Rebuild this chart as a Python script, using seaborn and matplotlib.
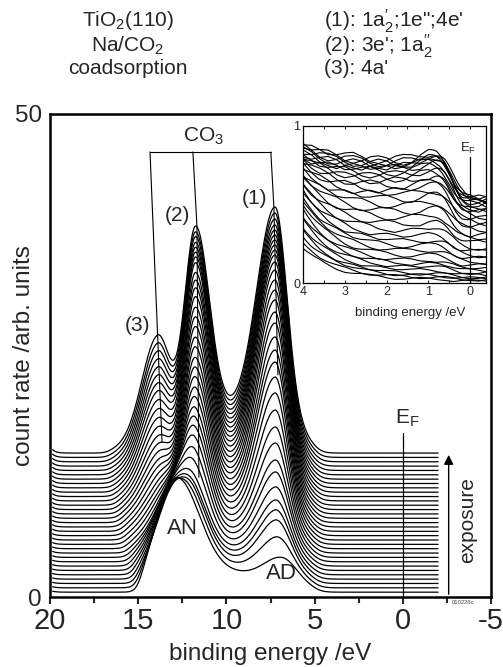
import numpy as np
import pandas as pd
import matplotlib
matplotlib.use('Agg')
import matplotlib.pyplot as plt
import seaborn as sns
from matplotlib.patches import Rectangle

sns.set_theme(style='white')
plt.rcParams['font.family'] = ['Liberation Sans', 'DejaVu Sans']
plt.rcParams['mathtext.fontset'] = 'custom'
plt.rcParams['mathtext.rm'] = 'Liberation Sans'
plt.rcParams['mathtext.it'] = 'Liberation Sans:italic'
plt.rcParams['mathtext.default'] = 'regular'
plt.rcParams['axes.unicode_minus'] = False

# ---------------- data ----------------
# apex heights (absolute, stacked) of the 33 spectra, bottom -> top
peak1_apex = [4.04, 6.21, 7.97, 9.01, 10.04, 11.39, 12.94, 14.18, 15.94, 17.60, 19.36,
              21.12, 22.77, 24.33, 25.57, 26.92, 28.36, 29.50, 30.75, 31.78, 32.82,
              33.85, 34.68, 35.40, 35.92, 36.44, 36.96, 37.47, 37.99, 38.51, 39.13,
              39.75, 40.37]
peak2_apex = [9.3, 10.4, 11.1, 11.6, 12.4, 13.9, 15.2, 16.5, 17.6, 18.6, 19.6, 20.7,
              21.7, 22.8, 23.8, 24.8, 25.9, 26.9, 28.0, 29.0, 30.0, 31.1, 32.0, 32.8,
              33.6, 34.6, 35.2, 35.7, 36.2, 36.7, 37.3, 37.8, 38.4]
peak3_apex = [8.18, 7.97, 7.87, 7.76, 7.87, 8.07, 8.28, 8.59, 8.90, 9.32, 9.73, 10.25,
              10.77, 11.39, 12.01, 12.73, 13.46, 14.18, 15.01, 15.84, 16.67, 17.60,
              18.53, 19.46, 20.39, 21.33, 22.15, 22.98, 23.81, 24.64, 25.47, 26.29,
              27.12]
# AN (substrate-related) band amplitude, fading with exposure
an_amp = [10.4, 9.59, 8.96, 8.68, 8.40, 7.98, 7.46, 7.08, 6.47, 5.89, 5.27, 4.65, 4.08,
          3.56, 3.18, 2.75, 2.28, 1.96, 1.57, 1.30, 1.02, 0.75, 0.56, 0.44, 0.41, 0.37,
          0.33, 0.31, 0.27, 0.24, 0.17, 0.08, 0.0]
ad_amp = 2.4
bg_amp = [2.0, 2.16, 2.28, 2.33, 2.38, 2.47, 2.57, 2.64, 2.76, 2.87, 2.99, 3.11, 3.22,
          3.32, 3.39, 3.47, 3.56, 3.62, 3.70, 3.75, 3.80, 3.86, 3.89, 3.92, 3.92, 3.93,
          3.94, 3.94, 3.95, 3.95, 3.97, 3.98, 4.0]
# secondary-electron cutoff (eV)
cutoff = [14.95, 15.05, 15.14, 15.22, 15.3, 15.37, 15.44, 15.5, 15.56, 15.63, 15.7,
          15.77, 15.83, 15.89, 15.95, 16.01, 16.07, 16.12, 16.17, 16.22, 16.27, 16.32,
          16.37, 16.41, 16.45, 16.49, 16.53, 16.56, 16.59, 16.62, 16.65, 16.68, 16.71]

# inset (valence band region, normalised)
in_start = [0.22, 0.25, 0.30, 0.33, 0.36, 0.40, 0.43, 0.46, 0.50, 0.52, 0.55, 0.57, 0.60,
            0.62, 0.64, 0.66, 0.68, 0.70, 0.72, 0.74, 0.75, 0.77, 0.78, 0.79, 0.80, 0.81,
            0.82, 0.83, 0.84, 0.85, 0.86, 0.87, 0.88]
in_plateau = [0.02, 0.03, 0.04, 0.05, 0.07, 0.09, 0.11, 0.13, 0.16, 0.19, 0.22, 0.25,
              0.28, 0.32, 0.36, 0.40, 0.44, 0.48, 0.52, 0.55, 0.58, 0.61, 0.64, 0.66,
              0.68, 0.70, 0.72, 0.73, 0.74, 0.75, 0.76, 0.77, 0.78]
in_ripple = [0.00, 0.02, 0.03, 0.01, -0.02, -0.03, -0.01, 0.02, 0.03, 0.02, -0.01, -0.03,
             -0.02, 0.01, 0.03, 0.02, -0.01, -0.02, -0.03, 0.00, 0.02, 0.01, -0.01]

# ---------------- build spectra ----------------
n = len(peak1_apex)
step_off = 0.45
E = np.linspace(19.85, -2.0, 900)


def sg(x, c, s_hi, s_lo):
    s = np.where(x >= c, s_hi, s_lo)
    return np.exp(-0.5 * ((x - c) / s) ** 2)


def comp_peaks(x):
    return [sg(x, 7.25, 1.05, 0.65), sg(x, 11.75, 0.62, 0.78), sg(x, 13.9, 0.9, 0.7)]


def fixed(x, k):
    edge = 1.0 / (1.0 + np.exp((4.9 - x) / 0.25))
    return (an_amp[k] * sg(x, 12.8, 1.1, 1.25) + ad_amp * sg(x, 6.8, 1.0, 0.8)
            + bg_amp[k] * np.exp(-0.5 * ((x - 10.0) / 3.0) ** 2) * edge)


rows = []
Ei = np.array([7.25, 11.75, 13.9])
for k in range(n):
    off = 0.5 + step_off * k
    stp_i = 1.0 / (1.0 + np.exp((Ei - cutoff[k]) / 0.2))
    T = np.array([peak1_apex[k], peak2_apex[k], peak3_apex[k]]) - off
    F = fixed(Ei, k) * stp_i
    M = np.array(comp_peaks(Ei)).T * stp_i[:, None]
    A = np.clip(np.linalg.solve(M, T - F), 0, None)
    stp = 1.0 / (1.0 + np.exp((E - cutoff[k]) / 0.2))
    pk = comp_peaks(E)
    I = (fixed(E, k) + A[0] * pk[0] + A[1] * pk[1] + A[2] * pk[2]) * stp
    hook = (0.1 + 0.25 * k / (n - 1)) * np.exp(-(19.85 - E) / 0.2)
    y = off + I + hook
    rows.append(pd.DataFrame({'E': E, 'I': y, 'k': k}))
df = pd.concat(rows, ignore_index=True)

Ein = np.linspace(4.0, -0.38, 300)
nodes = np.linspace(4.0, -0.4, len(in_ripple))
rows = []
for k in range(n):
    tail = in_plateau[k] + (in_start[k] - in_plateau[k]) * np.exp(-(4.0 - Ein) / 0.8)
    bump = 0.06 * (in_plateau[k] / 0.78) * np.exp(-0.5 * ((Ein - 0.8) / 0.35) ** 2)
    fermi = 1 - 0.3 / (1 + np.exp((Ein - 0.45) / 0.12))
    rip = np.interp(Ein, nodes[::-1], np.roll(in_ripple, 3 * k)[::-1])
    rip = rip * (0.3 + 0.7 * in_plateau[k] / 0.78)
    y = (tail + bump) * fermi + rip
    rows.append(pd.DataFrame({'E': Ein, 'I': y, 'k': k}))
dfi = pd.concat(rows, ignore_index=True)

# ---------------- figure ----------------
W, H = 503, 667
fig = plt.figure(figsize=(W / 100, H / 100), dpi=100)
ax = fig.add_axes([50 / W, 1 - 597 / H, 441 / W, 483 / H])
sns.lineplot(data=df, x='E', y='I', units='k', estimator=None, color='black',
             linewidth=0.9, sort=False, legend=False, ax=ax)
ax.set_xlim(20, -5)
ax.set_ylim(0, 50)
ax.set_xticks([20, 15, 10, 5, 0, -5])
ax.set_xticks([17.5, 12.5, 7.5, 2.5, -2.5], minor=True)
ax.set_yticks([0, 50])
ax.tick_params(axis='x', which='major', direction='out', length=5, width=1.5,
               labelsize=21, pad=2, bottom=True, top=False)
ax.tick_params(axis='x', which='minor', direction='out', length=4, width=1.5,
               bottom=True, top=False)
ax.tick_params(axis='y', length=0, labelsize=17.5, pad=6)
for s in ax.spines.values():
    s.set_linewidth(1.8)
    s.set_color('black')
ax.set_xlabel('binding energy /eV', fontsize=17.5)
ax.xaxis.set_label_coords(0.5, -0.095)
ax.set_ylabel('count rate /arb. units', fontsize=17.5)
ax.yaxis.set_label_coords(-0.035, 0.5)

# CO3 bracket and peak guide lines
ax.plot([14.33, 7.48], [46.07, 46.07], color='black', lw=0.8)
ax.plot([14.33, 13.9, 13.65], [46.07, 27.1, 16.05], color='black', lw=0.8)
ax.plot([11.9, 11.67, 11.56], [46.07, 38.4, 12.4], color='black', lw=0.8)
ax.plot([7.48, 7.31, 7.08], [46.07, 40.4, 23.0], color='black', lw=0.8)
ax.text(11.3, 46.6, r'CO$_3$', fontsize=15, ha='center', va='bottom')
ax.text(8.39, 41.3, '(1)', fontsize=15, ha='center', va='center')
ax.text(12.8, 39.5, '(2)', fontsize=15, ha='center', va='center')
ax.text(15.02, 28.1, '(3)', fontsize=15, ha='center', va='center')
ax.text(12.5, 7.1, 'AN', fontsize=16, ha='center', va='center')
ax.text(6.86, 2.4, 'AD', fontsize=16, ha='center', va='center')

# Fermi level and exposure arrow
ax.plot([0, 0], [0, 17.0], color='black', lw=0.9)
ax.text(-0.25, 17.4, r'E$_F$', fontsize=15, ha='center', va='bottom')
ax.annotate('', xy=(-2.6, 15.0), xytext=(-2.6, 0),
            arrowprops=dict(arrowstyle='-|>', color='black', lw=1.0, mutation_scale=14))
ax.text(-3.65, 8.0, 'exposure', fontsize=15, rotation=90, ha='center', va='center')

# white box behind the inset
fig.patches.append(Rectangle((295 / W, 1 - 338 / H), (489 - 295) / W, (338 - 116) / H,
                             transform=fig.transFigure, facecolor='white',
                             edgecolor='none', zorder=1))

axi = fig.add_axes([303 / W, 1 - 283 / H, 183 / W, 157 / H], zorder=2)
sns.lineplot(data=dfi, x='E', y='I', units='k', estimator=None, color='black',
             linewidth=0.8, sort=False, legend=False, ax=axi)
axi.set_xlim(4, -0.38)
axi.set_ylim(0, 1)
axi.set_xticks([4, 3, 2, 1, 0])
axi.set_xticks([3.5, 2.5, 1.5, 0.5], minor=True)
axi.set_yticks([0, 1])
axi.tick_params(axis='x', which='both', direction='in', length=2.5, width=0.8,
                labelsize=9, pad=2, bottom=True, top=True)
axi.tick_params(axis='y', length=0, labelsize=9, pad=2)
for s in axi.spines.values():
    s.set_linewidth(0.9)
    s.set_color('black')
axi.plot([0, 0], [0, 0.8], color='black', lw=0.9)
axi.text(0.05, 0.81, r'E$_F$', fontsize=9.5, ha='center', va='bottom')
axi.set_xlabel('binding energy /eV', fontsize=9.5)
axi.xaxis.set_label_coords(0.585, -0.15)
axi.set_ylabel('')

# header texts
fig.text(128 / W, 1 - 21 / H, r'TiO$_2$(110)', fontsize=15, ha='center', va='center')
fig.text(128 / W, 1 - 46 / H, r'Na/CO$_2$', fontsize=15, ha='center', va='center')
fig.text(128 / W, 1 - 69 / H, 'coadsorption', fontsize=15, ha='center', va='center')
fig.text(324 / W, 1 - 21 / H, r'(1): 1a$_2^{\prime}$;1e";4e' + "'", fontsize=15,
         ha='left', va='center')
fig.text(324 / W, 1 - 46 / H, r"(2): 3e'; 1a$_2^{\prime\prime}$", fontsize=15,
         ha='left', va='center')
fig.text(324 / W, 1 - 68 / H, "(3): 4a'", fontsize=15, ha='left', va='center')
fig.text(463 / W, 1 - 603 / H, '010226c', fontsize=4.2, ha='center', va='center',
         color='#444444')

fig.savefig('out.png', dpi=100)
